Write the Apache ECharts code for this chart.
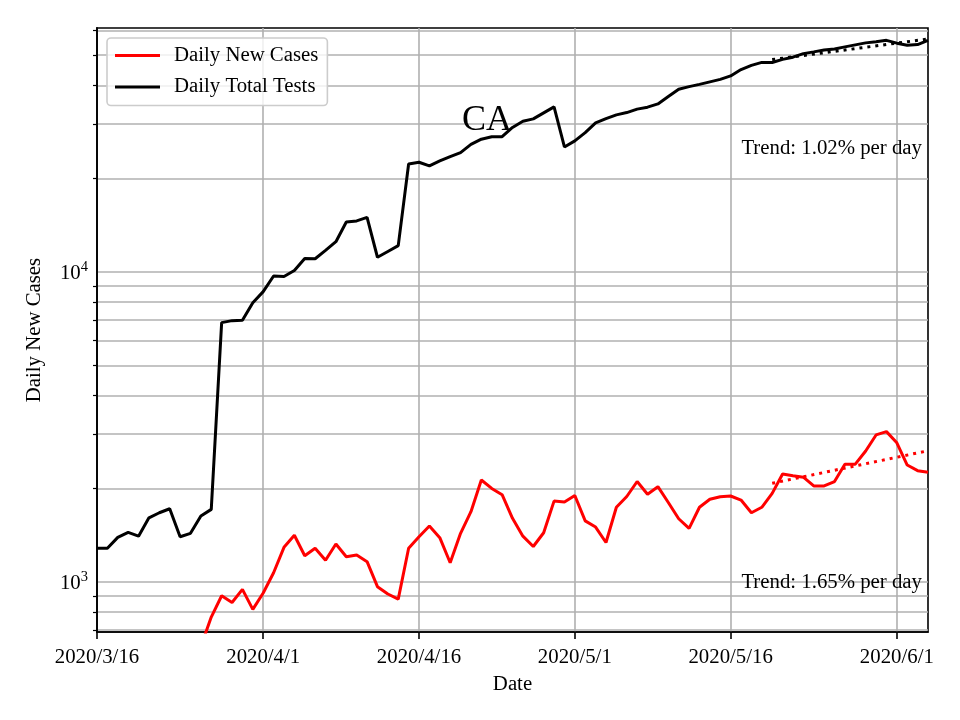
<!DOCTYPE html>
<html><head><meta charset="utf-8">
<script src="https://cdn.jsdelivr.net/npm/echarts@6/dist/echarts.min.js"></script>
<style>html,body{margin:0;padding:0;background:#fff}#c{width:960px;height:720px}</style>
</head><body><div id="c"></div>
<script>
// ---- data ----
const firstDay = '2020-03-16';
const dayCount = 81;
const xTickLabels = ['2020/3/16', '2020/4/1', '2020/4/16', '2020/5/1', '2020/5/16', '2020/6/1'];
const newCases = [null, null, null, null, null, null, null, null, null, null,
  620, 771, 903, 859, 947, 816, 922, 1071, 1294, 1415,
  1216, 1285, 1175, 1327, 1207, 1222, 1163, 966, 915, 881,
  1285, 1400, 1516, 1390, 1154, 1436, 1686, 2133, 2004, 1913,
  1605, 1406, 1302, 1442, 1824, 1812, 1901, 1575, 1504, 1341,
  1742, 1887, 2110, 1920, 2030, 1805, 1600, 1490, 1742, 1849,
  1884, 1894, 1838, 1673, 1742, 1932, 2231, 2203, 2178, 2042,
  2042, 2108, 2399, 2399, 2646, 2981, 3055, 2812, 2384, 2286, 2259];
const totalTests = [1285, 1285, 1393, 1445, 1406, 1611, 1673, 1723, 1400, 1436,
  1633, 1715, 6863, 6966, 6985, 7961, 8640, 9707, 9672, 10111,
  11054, 11030, 11734, 12521, 14498, 14606, 14990, 11154, 11644, 12157,
  22300, 22590, 21980, 22800, 23550, 24260, 25780, 26800, 27300, 27300,
  29240, 30620, 31160, 32580, 34060, 25300, 26460, 28130, 30240, 31230,
  32100, 32660, 33500, 33990, 34830, 36780, 38820, 39600, 40270, 41020,
  41780, 42870, 44950, 46360, 47400, 47350, 48480, 49280, 50600, 51260,
  51950, 52400, 53200, 54000, 54800, 55300, 55840, 54680, 53880, 54120, 55800];
const casesTrend = [[65, 2082], [80, 2651]];
const testsTrend = [[65, 48400], [80, 56400]];
const yMajorTicks = [1000, 10000];
const yMinorTicks = [700, 800, 900, 2000, 3000, 4000, 5000, 6000, 7000, 8000, 9000,
  20000, 30000, 40000, 50000, 60000];
const yMin = 690, yMax = 61200;

// categories (dates)
const dates = [];
(function () {
  const d0 = new Date(firstDay + 'T00:00:00Z');
  for (let i = 0; i < dayCount; i++) {
    const d = new Date(d0.getTime() + i * 86400000);
    dates.push(d.getUTCFullYear() + '/' + (d.getUTCMonth() + 1) + '/' + d.getUTCDate());
  }
})();

const FONT = "'Liberation Serif', 'Times New Roman', serif";
const showTick = (i, v) => xTickLabels.indexOf(v) >= 0;

const chart = echarts.init(document.getElementById('c'), null, { renderer: 'canvas' });
chart.setOption({
  animation: false,
  backgroundColor: '#fff',
  grid: { left: 97, right: 32, top: 28, bottom: 88, show: true, borderColor: '#000', borderWidth: 1.6, backgroundColor: 'transparent' },
  legend: {
    data: ['Daily New Cases', 'Daily Total Tests'],
    orient: 'vertical', left: 107, top: 38,
    icon: 'rect', itemWidth: 45, itemHeight: 3,
    padding: [7, 9, 8, 8], itemGap: 10.5,
    backgroundColor: 'rgba(255,255,255,0.8)', borderColor: '#cccccc', borderWidth: 1.6, borderRadius: 4,
    textStyle: { fontSize: 20.8, fontFamily: FONT, color: '#000', padding: [0, 0, 0, 9] },
    z: 20
  },
  xAxis: {
    type: 'category', data: dates, boundaryGap: false,
    name: 'Date', nameLocation: 'middle', nameGap: 42,
    nameTextStyle: { fontSize: 20.8, fontFamily: FONT, color: '#000' },
    axisLine: { lineStyle: { color: '#000', width: 1.6 } },
    axisTick: { interval: showTick, length: 7, lineStyle: { color: '#000', width: 1.6 } },
    axisLabel: { interval: showTick, fontSize: 20.8, fontFamily: FONT, color: '#000', margin: 15 },
    splitLine: { show: true, interval: showTick, lineStyle: { color: '#b0b0b0', width: 1.6 } }
  },
  yAxis: [{
    type: 'log', logBase: 10, min: yMin, max: yMax,
    name: 'Daily New Cases', nameLocation: 'middle', nameGap: 52,
    nameTextStyle: { fontSize: 20.8, fontFamily: FONT, color: '#000' },
    axisLine: { show: true, lineStyle: { color: '#000', width: 1.6 } },
    axisTick: { customValues: yMajorTicks, length: 7, lineStyle: { color: '#000', width: 1.6 } },
    axisLabel: {
      customValues: yMajorTicks, margin: 9, fontFamily: FONT, color: '#000',
      formatter: v => {
        const p = Math.round(Math.log10(v));
        return Math.abs(Math.pow(10, p) - v) < 1e-6 * v ? '{b|10}{s|' + p + '}' : '';
      },
      rich: {
        b: { fontSize: 20.8, fontFamily: FONT, color: '#000', lineHeight: 24, verticalAlign: 'bottom' },
        s: { fontSize: 14.5, fontFamily: FONT, color: '#000', lineHeight: 24, verticalAlign: 'top', padding: [0, 0, 12, 0] }
      }
    },
    splitLine: { show: true, lineStyle: { color: '#b0b0b0', width: 1.6 } }
  }, {
    type: 'log', logBase: 10, min: yMin, max: yMax, position: 'left', offset: 0,
    axisLine: { show: true, lineStyle: { color: '#000', width: 1.6 } },
    axisTick: { show: true, customValues: yMinorTicks, length: 4, lineStyle: { color: '#000', width: 1.2 } },
    axisLabel: { show: false },
    splitLine: { show: true, lineStyle: { color: '#b0b0b0', width: 1.6 } }
  }],
  series: [{
    name: 'Daily New Cases', type: 'line', data: newCases, yAxisIndex: 0,
    showSymbol: false, symbol: 'none', color: '#ff0000',
    lineStyle: { color: '#ff0000', width: 3 }, clip: true, z: 5
  }, {
    name: 'casesTrend', type: 'line', data: casesTrend, yAxisIndex: 0,
    showSymbol: false, symbol: 'none', color: '#ff0000',
    lineStyle: { color: '#ff0000', width: 3, type: [3, 5] }, clip: true, z: 5
  }, {
    name: 'Daily Total Tests', type: 'line', data: totalTests, yAxisIndex: 0,
    showSymbol: false, symbol: 'none', color: '#000000',
    lineStyle: { color: '#000000', width: 3 }, clip: true, z: 6
  }, {
    name: 'testsTrend', type: 'line', data: testsTrend, yAxisIndex: 0,
    showSymbol: false, symbol: 'none', color: '#000000',
    lineStyle: { color: '#000000', width: 3, type: [3, 5] }, clip: true, z: 6
  }],
  graphic: [
    { type: 'text', z: 30, style: { text: 'CA', x: 487, y: 121, font: "36px 'Liberation Serif'", fill: '#000', align: 'center', verticalAlign: 'middle' } },
    { type: 'text', z: 30, style: { text: 'Trend: 1.02% per day', x: 922, y: 149, font: "20.8px 'Liberation Serif'", fill: '#000', align: 'right', verticalAlign: 'middle' } },
    { type: 'text', z: 30, style: { text: 'Trend: 1.65% per day', x: 922, y: 583, font: "20.8px 'Liberation Serif'", fill: '#000', align: 'right', verticalAlign: 'middle' } }
  ]
});
</script></body></html>
